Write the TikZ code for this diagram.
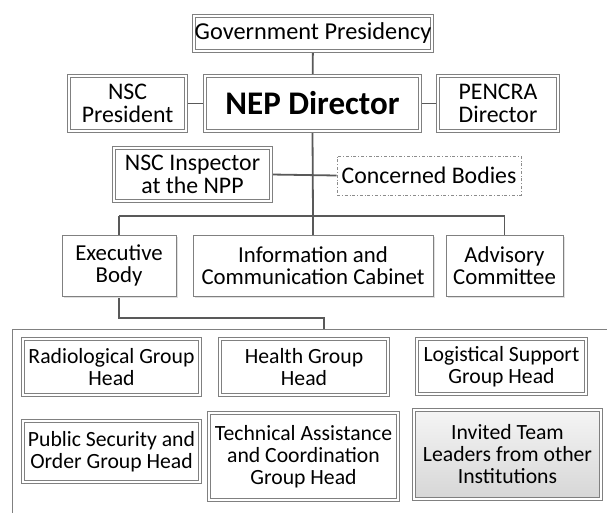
\documentclass[tikz,border=0pt]{standalone}
\usepackage{fontspec}
\setmainfont{Carlito}
\usetikzlibrary{calc,shadows,backgrounds}
\tikzstyle{box}=[draw=black!50, line width=0.8pt, fill=white, align=center, inner sep=0,
  drop shadow={shadow xshift=2pt, shadow yshift=-2pt, fill=black!12, opacity=1},
  font=\fontsize{22.8}{22.5}\selectfont]
\tikzstyle{dbox}=[box, line width=0.7pt, double=white, double distance=2.2pt]
\tikzstyle{grp}=[dbox, font=\fontsize{21.7}{22}\selectfont]
\tikzstyle{top}=[dbox, font=\fontsize{23.8}{22.5}\selectfont]
\tikzstyle{link}=[draw=black!65, line width=1.8pt]

\begin{document}
\begin{tikzpicture}[x=1pt, y=-1pt]
\useasboundingbox (0,0) rectangle (607,512);
% top of the plan
\node[top, minimum width=238pt, minimum height=35pt, font=\fontsize{24.3}{22.5}\selectfont] (gov) at (313,33.5) {Government Presidency};
\node[dbox, minimum width=215pt, minimum height=55pt, font=\fontsize{33}{33}\selectfont\bfseries] (nep) at (312.5,103.5) {NEP Director};
\node[top, minimum width=117pt, minimum height=55pt] (nscp) at (127.5,103.5) {NSC\\President};
\node[top, minimum width=120pt, minimum height=55pt] (pencra) at (498,103.5) {PENCRA\\Director};
\node[top, minimum width=157pt, minimum height=53pt] (insp) at (192.5,174.5) {NSC Inspector\\at the NPP};
\node[draw=black!45, line width=0.6pt, dash dot, minimum width=184pt, minimum height=39pt, inner sep=0,
  font=\fontsize{23.8}{22.5}\selectfont] (conc) at (429,175.5) {Concerned Bodies};
\coordinate (bus) at (313,216);
% second level
\node[box, minimum width=114pt, minimum height=61pt] (exec) at (119,265.5) {Executive\\Body};
\node[box, minimum width=240pt, minimum height=61pt] (info) at (313,265.5) {Information and\\Communication Cabinet};
\node[box, minimum width=117pt, minimum height=61pt] (adv) at (504.5,265.5) {Advisory\\Committee};
% group heads
\coordinate (teamtop) at (324,329);
\node[grp, minimum width=177pt, minimum height=56pt] (rad) at (111.5,367) {Radiological Group\\Head};
\node[grp, minimum width=168pt, minimum height=56pt] (health) at (304,367) {Health Group\\Head};
\node[grp, minimum width=169pt, minimum height=55pt] (logi) at (501.5,366.5) {Logistical Support\\Group Head};
\node[grp, minimum width=177pt, minimum height=61pt] (pub) at (111.5,451.5) {Public Security and\\Order Group Head};
\node[grp, minimum width=189pt, minimum height=87pt] (tech) at (303.5,456.5) {Technical Assistance\\and Coordination\\Group Head};
\node[grp, minimum width=187pt, minimum height=89pt, top color=black!4, bottom color=black!16] (inv) at (507.5,454.5) {Invited Team\\Leaders from other\\Institutions};

\begin{scope}[on background layer]
\draw[draw=black!50, line width=0.8pt] (12,329) rectangle (640,540);
\draw[link] (gov) -- (nep);
\draw[link] (nscp) -- (nep);
\draw[link] (nep) -- (pencra);
\draw[link] (nep.south) -- (bus);
\draw[link] (insp.east) -- (conc.west);
\draw[link] (exec.north |- bus) -- (adv.north |- bus);
\foreach \n in {exec,info,adv}{\draw[link] (\n.north |- bus) -- (\n.north);}
\draw[link] (exec.south) |- ($(teamtop)+(0,-11)$) -- (teamtop);
\end{scope}
\end{tikzpicture}
\end{document}
